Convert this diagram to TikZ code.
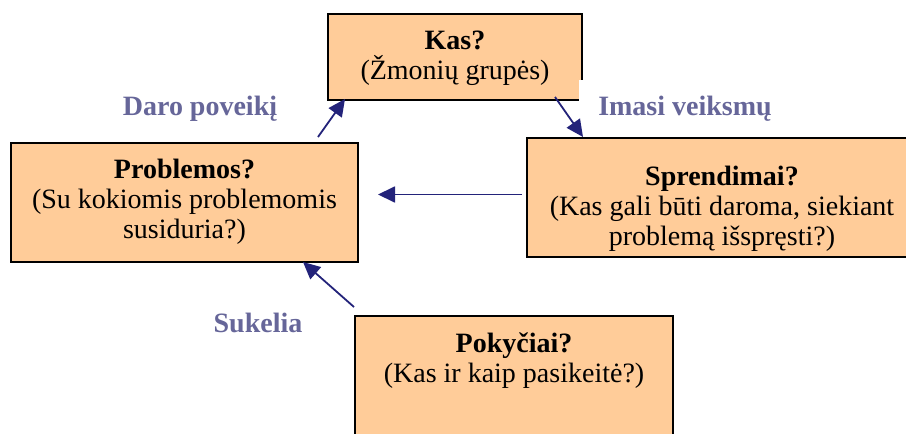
\documentclass[tikz,border=0pt]{standalone}
\usepackage{fontspec}
\setmainfont{Liberation Serif}
\usetikzlibrary{arrows.meta}

\definecolor{boxfill}{HTML}{FFCC99}
\definecolor{linkcol}{HTML}{23237A}
\definecolor{lblcol}{HTML}{666699}

\begin{document}
\begin{tikzpicture}[x=1pt,y=-1pt,inner sep=0pt,outer sep=0pt,
qbox/.style={draw=black,fill=boxfill,rectangle,line width=1.6pt,anchor=north west},
qtext/.style={align=center,anchor=north,font=\fontsize{28}{30}\selectfont},
lbl/.style={anchor=base,text=lblcol,font=\fontsize{28}{30}\selectfont\bfseries},
link/.style={draw=linkcol,line width=1.8pt,-{Triangle[length=17pt,width=16pt]}}]

\useasboundingbox (0,0) rectangle (906,434);
\clip (0,0) rectangle (906,434);

% question boxes
\draw (328,14) node[qbox,minimum width=254pt,minimum height=86pt] (kas) {};
\draw (11,143) node[qbox,minimum width=347pt,minimum height=119pt] (probl) {};
\draw (355,316) node[qbox,minimum width=318pt,minimum height=150pt] (pokyc) {};

\draw (455,31) node[qtext] (kastxt) {\textbf{Kas?}\\(Žmonių grupės)};
\draw (184.5,159) node[qtext] (probltxt) {\textbf{Problemos?}\\(Su kokiomis problemomis\\susiduria?)};
\draw (514,333) node[qtext] (pokyctxt) {\textbf{Pokyčiai?}\\(Kas ir kaip pasikeitė?)};

% labels
\draw (200,115) node[lbl] (daro) {Daro poveikį};
\draw (258,332) node[lbl] (sukelia) {Sukelia};
\draw (685,115) node[lbl,fill=white,text height=35pt,text depth=22pt,minimum width=212pt] (imasi) {Imasi veiksmų};

\draw (527,138) node[qbox,minimum width=390pt,minimum height=119pt] (spren) {};
\draw (722,166) node[qtext] (sprentxt) {\textbf{Sprendimai?}\\(Kas gali būti daroma, siekiant\\problemą išspręsti?)};

% arrows
\draw[link] ([xshift=133.5pt,yshift=6pt]probl.north) -- ([xshift=-110pt,yshift=1pt]kas.south);
\draw[link] ([xshift=100pt,yshift=3pt]kas.south) -- ([xshift=-139pt,yshift=1pt]spren.north);
\draw[link] ([xshift=-5pt,yshift=3pt]spren.west) -- ([xshift=20pt,yshift=8pt]probl.east);
\draw[link] ([xshift=-1pt,yshift=9pt]pokyc.north west) -- ([xshift=118.5pt]probl.south);
\end{tikzpicture}
\end{document}
